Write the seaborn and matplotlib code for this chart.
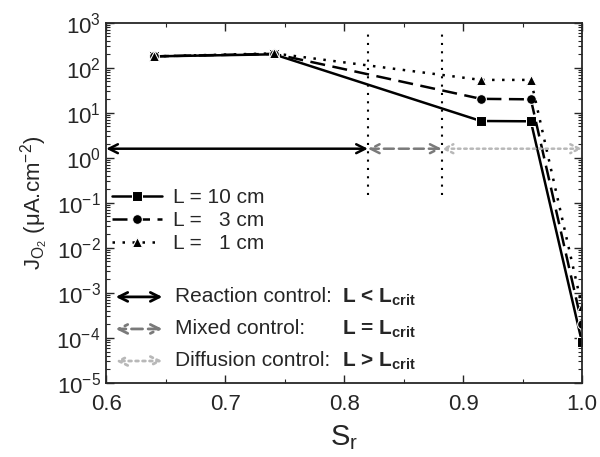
import numpy as np
import pandas as pd
import matplotlib
matplotlib.use("Agg")
from matplotlib import pyplot as plt
from matplotlib.ticker import MultipleLocator, LogLocator, NullFormatter
import seaborn as sns

sns.set_style("ticks")
plt.rcParams['font.family'] = ['Liberation Sans', 'DejaVu Sans']
plt.rcParams['mathtext.fontset'] = 'custom'
plt.rcParams['mathtext.rm'] = 'Liberation Sans'
plt.rcParams['mathtext.it'] = 'Liberation Sans:italic'
plt.rcParams['mathtext.bf'] = 'Liberation Sans:bold'

# data
sr = [0.64, 0.741, 0.915, 0.957, 1.0]
j_10cm = [180, 200, 6.6, 6.5, 8e-5]
j_3cm = [180, 205, 20.5, 20.0, 2e-4]
j_1cm = [180, 210, 54, 54, 5e-4]
series_labels = ["L = 10 cm", "L =   3 cm", "L =   1 cm"]
markers = ["s", "o", "^"]
styles = ["-", (0, (6, 3)), (0, (1, 3))]

# control regimes (S_r boundaries) and arrow level
bounds = [0.6, 0.82, 0.882, 1.0]
regime_names = ["Reaction control:", "Mixed control:", "Diffusion control:"]
regime_rel = [r"L < L$_{\mathbf{crit}}$", r"L = L$_{\mathbf{crit}}$", r"L > L$_{\mathbf{crit}}$"]
regime_colors = ["black", "#7a7a7a", "#b8b8b8"]
regime_styles = ["-", (0, (4, 2)), (0, (1, 1.5))]
arrow_level = 1.6
vline_range = (0.15, 700)

fig = plt.figure(figsize=(6, 4.57), dpi=100)
ax = fig.add_axes([0.177, 0.162, 0.793, 0.788])

for vals, lab, m, ls in zip([j_10cm, j_3cm, j_1cm], series_labels, markers, styles):
    df = pd.DataFrame({"Sr": sr, "J": vals})
    sns.lineplot(data=df, x="Sr", y="J", ax=ax, color="black", marker=m,
                 markersize=7, linestyle=ls, lw=1.8, label=lab)

ax.set_yscale("log")
ax.set_xlim(0.6, 1.0)
ax.set_ylim(1e-5, 1e3)

# boundaries between regimes
ax.vlines(bounds[1:3], vline_range[0], vline_range[1], colors="black",
          linestyles=(0, (1, 3)), lw=1.5)

# regime arrows in the data
for i in range(3):
    ax.annotate("", xy=(bounds[i], arrow_level), xytext=(bounds[i + 1], arrow_level),
                arrowprops=dict(arrowstyle="<->", color=regime_colors[i], lw=1.8,
                                linestyle=regime_styles[i], mutation_scale=16,
                                shrinkA=0, shrinkB=0))

leg = ax.legend(loc="upper left", bbox_to_anchor=(-0.005, 0.565), frameon=False,
                fontsize=15, handlelength=2.4, handletextpad=0.5, labelspacing=0.2,
                borderaxespad=0)

# regime legend
for i, ypos in enumerate([0.239, 0.15, 0.061]):
    ax.annotate("", xy=(0.02, ypos), xytext=(0.118, ypos), xycoords="axes fraction",
                arrowprops=dict(arrowstyle="<->", color=regime_colors[i], lw=2,
                                linestyle=regime_styles[i], mutation_scale=16,
                                shrinkA=0, shrinkB=0))
    ax.text(0.145, ypos, regime_names[i], transform=ax.transAxes, fontsize=15,
            va="center", ha="left")
    ax.text(0.495, ypos, regime_rel[i], transform=ax.transAxes, fontsize=15,
            fontweight="bold", va="center", ha="left")

ax.xaxis.set_major_locator(MultipleLocator(0.1))
ax.xaxis.set_minor_locator(MultipleLocator(0.05))
ax.yaxis.set_major_locator(LogLocator(base=10, numticks=20))
ax.yaxis.set_minor_locator(LogLocator(base=10, subs=np.arange(2, 10), numticks=20))
ax.yaxis.set_minor_formatter(NullFormatter())
ax.tick_params(which="both", direction="in", top=True, right=True, labelsize=16)
ax.tick_params(axis="x", pad=8)
ax.tick_params(axis="y", pad=4)
ax.tick_params(which="major", length=6, width=1)
ax.tick_params(which="minor", length=3, width=0.8)
ax.set_xticks([0.6, 0.7, 0.8, 0.9, 1.0])
ax.set_xticklabels(["0.6", "0.7", "0.8", "0.9", "1.0"])
for s in ax.spines.values():
    s.set_linewidth(1.3)

ax.set_xlabel(r"S$_\mathregular{r}$", fontsize=21, labelpad=6)
ax.set_ylabel(r"J$_{\mathregular{O_2}}$ ($\mathregular{\mu}$A.cm$^{\mathregular{-2}}$)",
              fontsize=16, labelpad=4)

fig.savefig("out.png", dpi=100)
